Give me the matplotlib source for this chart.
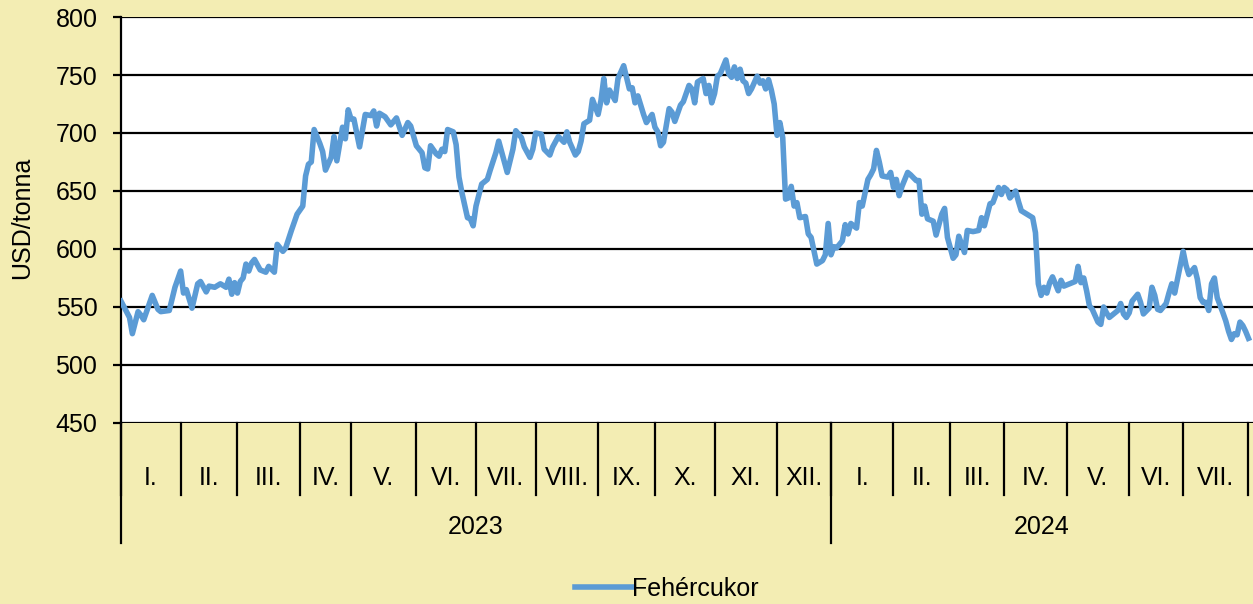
import matplotlib
matplotlib.use("Agg")
import matplotlib.pyplot as plt
import matplotlib.transforms as mtrans
import numpy as np

plt.rcParams['font.family'] = ['Liberation Sans', 'DejaVu Sans']

# kereskedési napok havonta
honapok = ['I.', 'II.', 'III.', 'IV.', 'V.', 'VI.', 'VII.', 'VIII.', 'IX.', 'X.', 'XI.', 'XII.',
           'I.', 'II.', 'III.', 'IV.', 'V.', 'VI.', 'VII.']
napok_havonta = [21, 20, 22, 18, 23, 21, 21, 22, 20, 21, 22, 19,
                 22, 20, 19, 22, 22, 19, 23]
evek = ['2023', '2024']
honap_per_ev = [12, 7]

# fehércukor ár, USD/tonna (kereskedési nap sorszáma, ár)
nap = [0, 3, 4, 6, 7, 8, 11, 13, 14, 17, 19, 21, 22, 23, 25, 27, 28, 30, 31, 33, 35, 37, 38, 39, 40,
       41, 42, 43, 44, 45, 46, 47, 49, 51, 52, 54, 55, 57, 58, 60, 62, 64, 65, 66, 67, 68, 70, 71, 72,
       74, 75, 76, 78, 79, 80, 81, 82, 84, 86, 88, 89, 90, 91, 93, 95, 97, 99, 101, 102, 104, 106,
       107, 108, 109, 111, 112, 113, 114, 115, 117, 118, 119, 120, 122, 123, 124, 125, 127, 129, 130,
       132, 133, 135, 136, 138, 139, 141, 142, 144, 145, 146, 148, 149, 151, 152, 154, 156, 157, 158,
       160, 161, 162, 163, 165, 166, 168, 169, 170, 171, 172, 174, 175, 177, 179, 180, 181, 182, 184,
       185, 187, 188, 189, 190, 191, 193, 194, 195, 197, 198, 200, 201, 202, 203, 205, 206, 207, 208,
       209, 210, 211, 213, 214, 215, 216, 217, 218, 219, 220, 221, 222, 224, 225, 226, 227, 228, 229,
       230, 231, 232, 233, 234, 235, 236, 237, 238, 239, 241, 242, 243, 245, 247, 248, 249, 250, 251,
       252, 254, 255, 256, 257, 259, 260, 261, 263, 264, 265, 266, 267, 268, 270, 271, 272, 273, 274,
       275, 277, 278, 280, 281, 282, 283, 284, 286, 287, 289, 290, 291, 293, 294, 295, 297, 298, 300,
       302, 303, 304, 306, 307, 309, 310, 311, 312, 313, 315, 316, 317, 319, 321, 322, 323, 324, 325,
       326, 327, 328, 330, 331, 332, 334, 336, 337, 338, 339, 340, 341, 342, 344, 345, 346, 347, 348,
       350, 351, 352, 353, 354, 355, 356, 358, 359, 360, 362, 363, 364, 365, 366, 368, 369, 370, 371,
       373, 374, 375, 376, 378, 379, 380, 381, 382, 383, 384, 385, 386, 388, 389, 390, 391, 392, 393,
       394, 395, 396, 397]
ar = [555, 541, 527, 546, 543, 539, 560, 548, 546, 547, 567, 581, 562, 565, 549, 570, 572, 563, 568,
      567, 570, 567, 574, 561, 571, 562, 572, 575, 587, 581, 588, 591, 582, 580, 585, 580, 604, 598,
      601, 616, 630, 637, 663, 673, 675, 703, 691, 684, 668, 679, 697, 676, 705, 695, 720, 712, 712,
      688, 716, 715, 719, 706, 717, 714, 707, 713, 698, 709, 706, 689, 683, 670, 669, 689, 682, 680,
      686, 684, 703, 701, 690, 662, 649, 627, 626, 620, 637, 656, 660, 668, 683, 693, 675, 666, 686,
      702, 696, 688, 679, 686, 700, 699, 686, 681, 688, 697, 692, 701, 692, 681, 684, 693, 708, 711,
      729, 716, 728, 747, 726, 737, 728, 747, 758, 738, 739, 726, 732, 716, 709, 716, 705, 701, 689,
      692, 721, 718, 710, 724, 727, 741, 738, 726, 744, 747, 734, 741, 726, 734, 749, 751, 763, 751,
      748, 757, 747, 755, 745, 743, 734, 738, 749, 743, 745, 738, 746, 737, 725, 698, 709, 696, 643,
      644, 654, 637, 640, 627, 628, 613, 610, 587, 590, 595, 622, 595, 602, 601, 607, 621, 613, 622,
      618, 640, 637, 660, 664, 669, 685, 675, 663, 662, 666, 653, 660, 646, 654, 666, 664, 659, 659,
      630, 637, 626, 624, 612, 630, 635, 610, 592, 595, 611, 597, 616, 615, 616, 627, 620, 639, 640,
      653, 647, 653, 651, 644, 650, 641, 633, 630, 627, 614, 570, 560, 567, 562, 571, 576, 564, 573,
      568, 570, 572, 585, 571, 575, 564, 551, 548, 537, 535, 550, 545, 541, 545, 547, 553, 544, 541,
      545, 555, 561, 554, 544, 549, 567, 560, 548, 547, 553, 562, 570, 562, 586, 598, 586, 578, 584,
      574, 558, 554, 554, 547, 570, 575, 558, 545, 538, 529, 522, 527, 526, 537, 534, 529, 523]

hatter = '#F3EDB3'
kek = '#5B9BD5'

fig = plt.figure(figsize=(12.53, 6.04), dpi=100, facecolor=hatter)
ax = fig.add_axes([121 / 1253, 1 - 423 / 604, 1 - 121 / 1253, 406 / 604])
ax.set_facecolor('white')

ax.plot(nap, ar, color=kek, lw=4.0, solid_joinstyle='round', label='Fehércukor', zorder=3)

ax.set_ylim(450, 800)
ax.set_yticks(np.arange(450, 801, 50))
ax.set_xlim(0, (1253 - 121) / 2.84)
ax.set_xticks([])
ax.grid(axis='y', color='black', lw=1.6)
ax.tick_params(axis='y', length=6, width=1.6, pad=11, labelsize=18)
for s in ['top', 'right', 'bottom']:
    ax.spines[s].set_visible(False)
ax.spines['left'].set_linewidth(1.6)

# hónap- és évhatárok a tengely alatt
tr = mtrans.blended_transform_factory(ax.transData, ax.transAxes)
hatarok = np.concatenate([[0], np.cumsum(napok_havonta)])
for i, h in enumerate(hatarok):
    ax.plot([h, h], [0, -72 / 406], color='black', lw=1.6, transform=tr, clip_on=False)
for i, nev in enumerate(honapok):
    kozep = (hatarok[i] + hatarok[i + 1]) / 2
    ax.text(kozep, -55 / 406, nev, transform=tr, ha='center', va='center', fontsize=18)

ev_hatar = [0, hatarok[honap_per_ev[0]], ax.get_xlim()[1]]
for h in ev_hatar[:2]:
    ax.plot([h, h], [0, -120 / 406], color='black', lw=1.6, transform=tr, clip_on=False)
for i, ev in enumerate(evek):
    ax.text((ev_hatar[i] + ev_hatar[i + 1]) / 2, -104 / 406, ev, transform=tr,
            ha='center', va='center', fontsize=18)

fig.text(22 / 1253, 1 - 218 / 604, 'USD/tonna', rotation=90, ha='center', va='center', fontsize=18)
fig.legend(loc='center', bbox_to_anchor=(667 / 1253, 1 - 589 / 604), frameon=False,
           fontsize=18, handlelength=2.3, handletextpad=0.0)

fig.savefig('out.png', dpi=100, facecolor=hatter)
